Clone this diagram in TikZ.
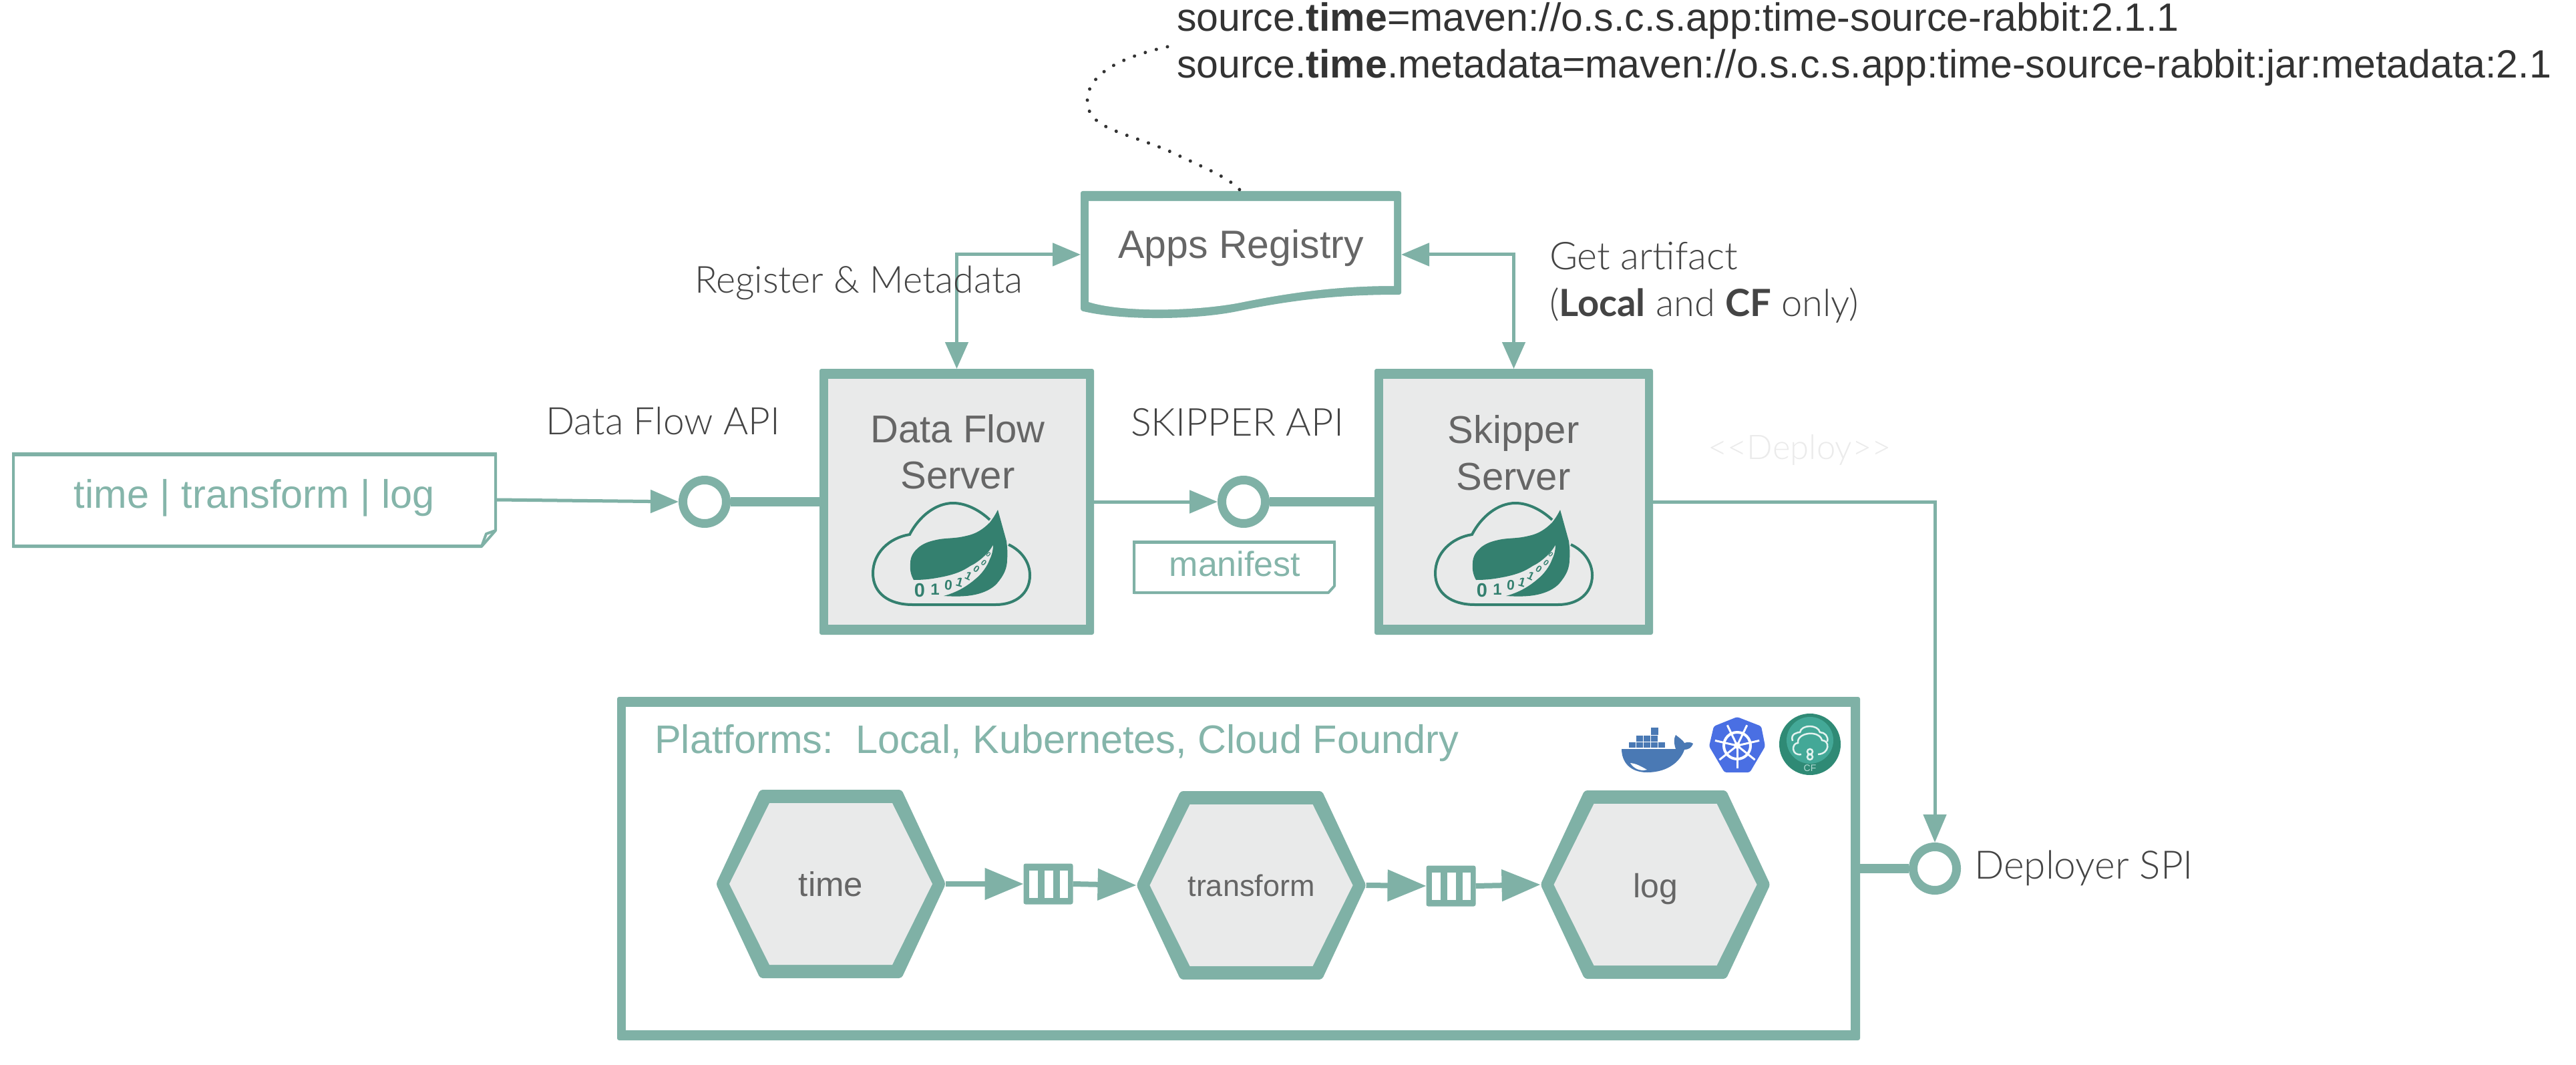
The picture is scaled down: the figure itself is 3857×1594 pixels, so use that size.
\documentclass[tikz,border=0pt]{standalone}
\usepackage{fontspec}
\usetikzlibrary{arrows.meta}
\setmainfont{Liberation Sans}
\newfontfamily\hand{Lato Light}[BoldFont=Lato Bold]
\definecolor{tealc}{HTML}{7FB1A6}
\definecolor{tealt}{HTML}{85B5AA}
\definecolor{grayf}{HTML}{E9EAEA}
\definecolor{leafc}{HTML}{34806F}
\definecolor{grayt}{HTML}{666666}
\definecolor{handc}{HTML}{444444}
\definecolor{dockerc}{HTML}{4A79B4}
\definecolor{kubec}{HTML}{4A6FE3}
\definecolor{cfdark}{HTML}{2F8A75}
\definecolor{cflight}{HTML}{43A897}
\newcommand\sizept[1]{\fontsize{#1}{#1}\selectfont}
\newcommand\handw[2]{\resizebox{#1pt}{!}{\hand\sizept{50}#2}}
\tikzset{
  x=1pt,y=-1pt,
  outerbox/.style={fill=tealc,rounded corners=3pt,inner sep=0pt,outer sep=0pt},
  innerbox/.style={fill=grayf,inner sep=0pt,outer sep=0pt},
  ghost/.style={inner sep=0pt,outer sep=0pt},
  port/.style={circle,draw=tealc,fill=white,line width=13pt,minimum size=65pt,inner sep=0pt},
  thickline/.style={draw=tealc,line width=14pt},
  thinline/.style={draw=tealc,line width=5pt,-{Triangle[length=42pt,width=34pt]}},
  bothline/.style={draw=tealc,line width=5pt,{Triangle[length=42pt,width=34pt]}-{Triangle[length=40pt,width=34pt]}},
  flowline/.style={draw=tealc,line width=8pt,-{Triangle[length=58pt,width=46pt]}},
  label/.style={anchor=base,inner sep=0pt,outer sep=0pt},
  queuebox/.style={outerbox,minimum width=74pt,minimum height=61pt},
}
\newcommand\hexnode[6]{%
  \coordinate (#1w) at (#2-172,#3);
  \coordinate (#1e) at (#2+172,#3);
  \fill[tealc,rounded corners=4pt] (#1w) -- (#2-106,#3-141) -- (#2+106,#3-141) -- (#1e) -- (#2+106,#3+141) -- (#2-106,#3+141) -- cycle;
  \fill[grayf] (#2-152,#3) -- (#2-92,#3-121) -- (#2+92,#3-121) -- (#2+152,#3) -- (#2+92,#3+121) -- (#2-92,#3+121) -- cycle;
  \node[label,text=grayt,font=\sizept{#4}] (#1t) at (#2,#6) {#5};
}
\newcommand\queueslots[2]{%
  \fill[white] (#1-28.5,#2-20.5) rectangle (#1-15.5,#2+20.5);
  \fill[white] (#1-5.5,#2-20.5) rectangle (#1+7.5,#2+20.5);
  \fill[white] (#1+17.5,#2-20.5) rectangle (#1+29.5,#2+20.5);
}
\newcommand\springcloud[3]{%
  \begin{scope}[shift={(#1,#2)}]
    \draw[leafc,line width=4pt] (176,25) .. controls (160,10) and (140,0) .. (121,0) .. controls (95,0) and (70,20) .. (56,47) .. controls (25,52) and (1,75) .. (1,105) .. controls (1,135) and (25,152) .. (60,152) -- (185,152) .. controls (215,152) and (236,135) .. (236,108) .. controls (236,90) and (225,72) .. (204,62);
    \fill[leafc] (188,10) .. controls (184,18) and (180,24) .. (176,29) .. controls (165,40) and (155,46) .. (141,49) .. controls (125,53) and (115,52) .. (101,54) .. controls (85,57) and (78,60) .. (71,65) .. controls (62,72) and (57,80) .. (57,90) .. controls (56,100) and (58,108) .. (62,115) .. controls (80,115) and (92,113) .. (107,110) .. controls (125,106) and (135,102) .. (147,94) .. controls (158,89) and (175,75) .. (181,62) .. controls (181,68) and (180,76) .. (176,84) .. controls (172,95) and (164,106) .. (154,114) .. controls (140,126) and (125,134) .. (107,139) .. controls (125,140) and (140,140) .. (154,137) .. controls (168,134) and (180,128) .. (187,120) .. controls (197,108) and (202,98) .. (202,84) .. controls (203,75) and (202,65) .. (201,57) -- cycle;
    \foreach \i/\px/\py/\sz/\rt/\dg in {1/71/131/29/0/0,2/94/129/24/0/1,3/114/123/21/-5/0,4/131/119/19/-15/1,5/144/109/17/-25/1,6/156/99/14/-35/0,7/167/89/12/-40/0,8/174/77/10/-45/0}{
      \node[ghost,text=leafc,rotate=\rt,font=\sizept{\sz}\bfseries] (#3d\i) at (\px,\py) {\dg};
    }
  \end{scope}
}
\begin{document}
\begin{tikzpicture}
\fill[white] (0,0) rectangle (3857,1594);
\useasboundingbox (0,0) rectangle (3857,1594);

% source text
\node[anchor=base west,inner sep=0pt,text=black!80,font=\sizept{59}] (srcA) at (1762,47) {source.\textbf{time}=maven://o.s.c.s.app:time-source-rabbit:2.1.1};
\node[anchor=base west,inner sep=0pt,text=black!80,font=\sizept{59}] (srcB) at (1762,117) {source.\textbf{time}.metadata=maven://o.s.c.s.app:time-source-rabbit:jar:metadata:2.1};

% apps registry
\node[ghost,minimum width=480pt,minimum height=190pt] (reg) at (1858,381) {};
\fill[tealc,rounded corners=3pt] (1618,286) -- (2098,286) -- (2098,441) .. controls (2020,441) and (1950,446) .. (1857,465) .. controls (1790,479) and (1680,480) .. (1618,465) -- cycle;
\fill[white] (1630,301) -- (2087,301) -- (2087,428) .. controls (2020,428) and (1950,434) .. (1857,453) .. controls (1790,466) and (1680,468) .. (1630,452) -- cycle;
\node[label,text=grayt,font=\sizept{59}] (regt) at (1858,387) {Apps Registry};

% dotted link
\coordinate (dotstart) at (1748,70);
\draw[black!80,line width=5pt,line cap=round,dash pattern=on 0.1pt off 17pt] (dotstart) .. controls (1680,85) and (1628,110) .. (1628,151) .. controls (1628,195) and (1690,198) .. (1759,230) .. controls (1800,250) and (1840,265) .. (reg.north);

% servers
\node[outerbox,minimum width=411pt,minimum height=398pt] (df) at (1432.5,751) {};
\node[innerbox,minimum width=386pt,minimum height=368pt] (dfi) at (1432.5,751) {};
\node[label,text=grayt,font=\sizept{58}] (dft1) at (1434,662) {Data Flow};
\node[label,text=grayt,font=\sizept{58}] (dft2) at (1434,731) {Server};
\springcloud{1306}{753}{a}

\node[outerbox,minimum width=417pt,minimum height=398pt] (sk) at (2266.5,751) {};
\node[innerbox,minimum width=392pt,minimum height=368pt] (ski) at (2266.5,751) {};
\node[label,text=grayt,font=\sizept{58}] (skt1) at (2266,663) {Skipper};
\node[label,text=grayt,font=\sizept{58}] (skt2) at (2266,733) {Server};
\springcloud{2148}{753}{b}

% time | transform | log document
\node[ghost,minimum width=726pt,minimum height=142pt] (doc) at (381,748) {};
\draw[tealc,line width=4pt,line join=round] (20,679) -- (742,679) -- (742,794) -- (721,818) -- (20,818) -- cycle;
\draw[tealc,line width=4pt,line join=round] (742,794) -- (728,799) -- (721,818);
\fill[tealc] (18,677) rectangle (744,683);
\fill[tealc] (18,815) rectangle (721,820);
\node[label,text=tealt,font=\sizept{59.5}] (doct) at (381,760) {time | transform | log};

% manifest document
\node[ghost,minimum width=304pt,minimum height=79pt] (man) at (1848,849.5) {};
\draw[tealc,line width=4pt,line join=round] (1698,811) -- (1998,811) -- (1998,877) -- (1989,887) -- (1698,887) -- cycle;
\fill[tealc] (1696,809) rectangle (2000,814);
\fill[tealc] (1696,885) rectangle (1990,889);
\node[label,text=tealt,font=\sizept{52}] (mant) at (1849,862) {manifest};

% ports
\node[port] (p1) at (1055,751) {};
\node[port] (p2) at (1862,751) {};
\node[port] (p3) at (2897,1300) {};

% platforms
\node[outerbox,minimum width=1861pt,minimum height=514pt] (plat) at (1854.5,1300) {};
\node[ghost,fill=white,minimum width=1834pt,minimum height=484pt] (plati) at (1854,1300) {};
\node[anchor=base west,inner sep=0pt,text=tealt,font=\sizept{59.5}] (platt) at (980,1127) {Platforms:\ \ Local, Kubernetes, Cloud Foundry};

\hexnode{hta}{1244}{1323}{51}{time}{1341}
\hexnode{htb}{1873.5}{1325}{45}{transform}{1341}
\hexnode{htc}{2478.5}{1324}{50}{log}{1343}
\node[queuebox] (q1) at (1569.5,1323) {};
\queueslots{1569.5}{1323}
\node[queuebox] (q2) at (2172.5,1326) {};
\queueslots{2172.5}{1326}

% connectors
\draw[thinline] (doc.east) -- (p1.west);
\draw[thickline] (p1.east) -- (df.west);
\draw[thinline] (df.east) -- (p2.west);
\draw[thickline] (p2.east) -- (sk.west);
\draw[thinline] (sk.east) -| (p3.north);
\draw[thickline] (p3.west) -- (plat.east);
\draw[bothline] (reg.west) -| (df.north);
\draw[bothline] (reg.east) -| (sk.north);
\draw[flowline] (htae) -- (q1.west);
\draw[flowline] (q1.east) -- (htbw);
\draw[flowline] (htbe) -- (q2.west);
\draw[flowline] (q2.east) -- (htcw);

% docker
\fill[dockerc] (2428,1121) -- (2509,1121) .. controls (2506,1112) and (2506,1105) .. (2509,1100) .. controls (2514,1104) and (2520,1108) .. (2522,1112) .. controls (2527,1110) and (2533,1111) .. (2535,1113) .. controls (2533,1119) and (2528,1122) .. (2522,1122) .. controls (2517,1137) and (2500,1156) .. (2466,1156) .. controls (2440,1156) and (2428,1140) .. (2428,1121) -- cycle;
\fill[white] (2441,1142) .. controls (2450,1143) and (2455,1146) .. (2466,1152) .. controls (2455,1155) and (2446,1150) .. (2441,1142) -- cycle;
\foreach \bx in {2439,2450,2461,2472,2483}{\fill[dockerc] (\bx,1111) rectangle (\bx+9.5,1119);}
\foreach \bx in {2450,2461,2472}{\fill[dockerc] (\bx,1101) rectangle (\bx+9.5,1109.5);}
\fill[dockerc] (2472,1089) rectangle (2483,1099.5);

% kubernetes
\fill[kubec,rounded corners=3pt] (2601,1073) -- (2637,1087) -- (2643,1117) -- (2620,1156) -- (2582,1156) -- (2559,1117) -- (2566,1087) -- cycle;
\draw[white,line width=4pt] (2601,1116) circle[radius=20];
\foreach \ang in {90,141.4,192.9,244.3,295.7,347.1,38.6}{\draw[white,line width=3pt] (2601,1116) -- ++(\ang:34);}
\fill[white] (2601,1116) circle[radius=5];

% cloud foundry
\fill[cfdark] (2710,1114) circle[radius=46];
\fill[cflight] (2710,1108) circle[radius=35];
\draw[white!85!cflight,line width=2.5pt] (2697,1129) .. controls (2682,1132) and (2682,1112) .. (2692,1112) .. controls (2690,1096) and (2724,1092) .. (2728,1108) .. controls (2740,1108) and (2740,1128) .. (2722,1129);
\draw[white!85!cflight,line width=2.5pt] (2684,1109) .. controls (2680,1098) and (2692,1096) .. (2695,1096) .. controls (2697,1084) and (2722,1084) .. (2725,1096) .. controls (2732,1096) and (2738,1102) .. (2736,1110);
\draw[white!85!cflight,line width=2.5pt] (2710,1125) circle[radius=4] (2710,1133) circle[radius=4];
\node[ghost,text=white!60!cflight,font=\sizept{14}] (cft) at (2710,1150) {CF};

% hand labels
\node[label,text=handc] (ldf) at (992.5,650) {\handw{351}{Data Flow API}};
\node[label,text=handc] (lsk) at (1852.5,652) {\handw{319}{SKIPPER API}};
\node[label,text=handc] (lreg) at (1285.5,438) {\handw{491}{Register \& Metadata}};
\node[label,text=handc] (lga) at (2461,403) {\handw{282}{Get artifact}};
\node[label,text=handc] (llc) at (2551.5,473) {\handw{463}{(\textbf{Local} and \textbf{CF} only)}};
\node[label,text=black!8] (ldp) at (2694.5,687) {\handw{275}{{<}{<}Deploy{>}{>}}};
\node[label,text=handc] (lspi) at (3120,1315) {\handw{328}{Deployer SPI}};
\end{tikzpicture}
\end{document}
